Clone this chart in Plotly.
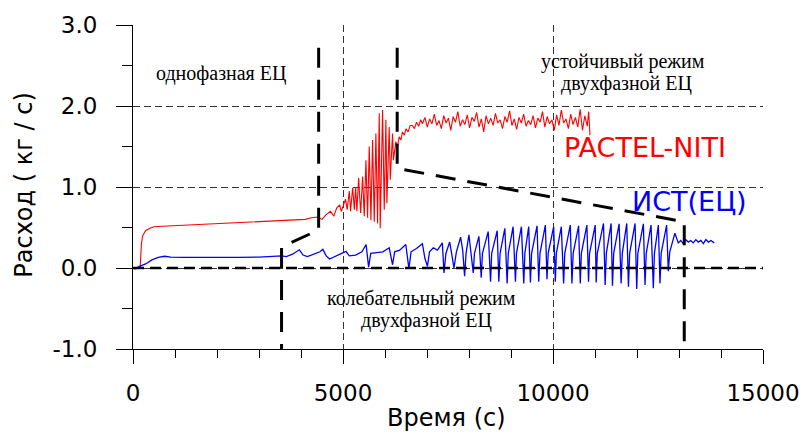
import plotly.graph_objects as go

# ---------------- data ----------------
red_time_start = [170, 200, 230, 300, 400, 500, 700, 900, 1100, 1300,
                  1600, 1900, 2200, 2500, 2800, 3100, 3400, 3700, 3900, 4100,
                  4250, 4400, 4500, 4600, 4700, 4780, 4850, 4920, 4960, 5000,
                  5060, 5100, 5150, 5180, 5230, 5270, 5300, 5330, 5372, 5420,
                  5467, 5505, 5546, 5585, 5625, 5665, 5704, 5744, 5783, 5823,
                  5863, 5886, 5942, 5982, 6021, 6045, 6100, 6125, 6179, 6200,
                  6258, 6300, 6337, 6380, 6416, 6460, 6500, 6550, 6600, 6654,
                  6700, 6750, 6800, 6850, 6891]
red_flow_start = [0.0, 0.30, 0.40, 0.46, 0.49, 0.51, 0.515, 0.52, 0.525, 0.53,
                  0.535, 0.54, 0.55, 0.555, 0.56, 0.57, 0.575, 0.585, 0.59, 0.60,
                  0.62, 0.63, 0.60, 0.66, 0.70, 0.64, 0.74, 0.78, 0.70, 0.76,
                  0.85, 0.72, 0.95, 0.70, 0.99, 0.72, 1.00, 0.70, 1.11, 0.68,
                  1.13, 0.64, 1.33, 0.62, 1.50, 0.59, 1.58, 0.57, 1.66, 0.55,
                  1.91, 0.49, 1.95, 0.72, 1.83, 0.80, 1.74, 1.09, 1.66, 1.33,
                  1.56, 1.50, 1.62, 1.58, 1.68, 1.64, 1.72, 1.68, 1.76, 1.76,
                  1.72, 1.80, 1.75, 1.83, 1.78]

red_time_plateau = [6950, 7006, 7062, 7118, 7174, 7230, 7286, 7342, 7398, 7454,
                    7510, 7566, 7622, 7678, 7734, 7790, 7846, 7902, 7958, 8014,
                    8070, 8126, 8182, 8238, 8294, 8350, 8406, 8462, 8518, 8574,
                    8630, 8686, 8742, 8798, 8854, 8910, 8966, 9022, 9078, 9134,
                    9190, 9246, 9302, 9358, 9414, 9470, 9526, 9582, 9638, 9694,
                    9750, 9806, 9862, 9918, 9974, 10030, 10086, 10142, 10198, 10254,
                    10310, 10366, 10422, 10478, 10534, 10590, 10646, 10702, 10758, 10814,
                    10850, 10880]
red_flow_plateau = [1.86, 1.74, 1.84, 1.78, 1.90, 1.76, 1.82, 1.72, 1.88, 1.79,
                    1.85, 1.70, 1.87, 1.80, 1.93, 1.75, 1.83, 1.77, 1.89, 1.73,
                    1.86, 1.81, 1.92, 1.74, 1.84, 1.68, 1.88, 1.78, 1.85, 1.76,
                    1.91, 1.79, 1.83, 1.72, 1.87, 1.80, 1.94, 1.76, 1.84, 1.71,
                    1.86, 1.79, 1.90, 1.75, 1.82, 1.77, 1.88, 1.73, 1.85, 1.80,
                    1.93, 1.74, 1.87, 1.78, 1.83, 1.70, 1.89, 1.76, 1.95, 1.79,
                    1.84, 1.72, 1.90, 1.77, 1.86, 1.74, 1.96, 1.70, 1.88, 1.75,
                    1.93, 1.64]

blue_time = [0, 60, 150, 300, 450, 600, 750, 900, 1200, 1600,
             2000, 2500, 3000, 3400, 3540, 3650, 3800, 3960, 4050, 4150,
             4300, 4450, 4520, 4600, 4680, 4800, 4950, 5070, 5150, 5300,
             5450, 5550, 5610, 5660, 5800, 5950, 6100, 6180, 6230, 6350,
             6495, 6570, 6620, 6750, 6890, 6950, 7010, 7060, 7150, 7250,
             7365, 7405, 7450, 7540, 7580, 7642, 7700, 7800, 7850, 7895,
             7930, 7998, 8101, 8130, 8236, 8291, 8320, 8457, 8513, 8540,
             8671, 8710, 8740, 8853, 8908, 8935, 9050, 9106, 9130, 9248,
             9304, 9330, 9422, 9462, 9490, 9620, 9660, 9690, 9818, 9857,
             9885, 10016, 10055, 10080, 10198, 10253, 10280, 10411, 10451, 10480,
             10609, 10649, 10675, 10807, 10846, 10870, 11005, 11028, 11055, 11202,
             11242, 11270, 11384, 11416, 11445, 11574, 11622, 11650, 11756, 11796,
             11825, 11954, 11993, 12020, 12152, 12191, 12220, 12334, 12389, 12415,
             12508, 12547, 12575, 12705, 12745, 12780, 12903, 12982, 13040, 13100,
             13160, 13220, 13280, 13340, 13400, 13460, 13520, 13580, 13640, 13700,
             13760, 13840]
blue_flow = [0.0, -0.01, 0.02, 0.05, 0.10, 0.13, 0.145, 0.135, 0.13, 0.13,
             0.125, 0.13, 0.135, 0.14, 0.15, 0.14, 0.17, 0.225, 0.16, 0.14,
             0.17, 0.20, 0.23, 0.15, 0.11, 0.14, 0.17, 0.205, 0.15, 0.16,
             0.20, 0.29, 0.01, 0.18, 0.19, 0.20, 0.25, 0.04, 0.20, 0.22,
             0.29, -0.01, 0.20, 0.24, 0.30, 0.12, 0.02, 0.20, 0.25, 0.22,
             0.31, -0.06, 0.18, 0.32, 0.20, 0.00, 0.20, 0.38, 0.22, -0.10,
             0.18, 0.41, -0.06, 0.18, 0.39, -0.12, 0.18, 0.45, -0.17, 0.18,
             0.46, -0.17, 0.18, 0.49, -0.19, 0.18, 0.51, -0.17, 0.18, 0.51,
             -0.19, 0.18, 0.51, -0.18, 0.18, 0.52, -0.17, 0.18, 0.53, -0.14,
             0.18, 0.51, -0.17, 0.18, 0.51, -0.19, 0.18, 0.53, -0.19, 0.18,
             0.52, -0.19, 0.18, 0.53, -0.17, 0.18, 0.53, -0.18, 0.18, 0.55,
             -0.21, 0.18, 0.55, -0.22, 0.18, 0.545, -0.19, 0.18, 0.55, -0.23,
             0.18, 0.55, -0.26, 0.18, 0.545, -0.21, 0.18, 0.53, -0.25, 0.18,
             0.53, -0.19, 0.18, 0.53, -0.04, 0.20, 0.43, 0.31, 0.34, 0.30,
             0.35, 0.32, 0.34, 0.31, 0.35, 0.32, 0.34, 0.30, 0.35, 0.32,
             0.34, 0.31]

# regime boundary markers (dashed black brackets)
bracket1_time = [4420, 4420, 3537, 3537]
bracket1_flow = [2.72, 0.47, 0.26, -1.03]
bracket2_time = [6290, 6290, 13125, 13125]
bracket2_flow = [2.72, 1.23, 0.57, -1.0]

zero_time = [0, 15000]
zero_flow = [0, 0]

x_tickvals = [0, 5000, 10000, 15000]
x_ticktext = ["0", "5000", "10000", "15000"]
y_tickvals = [-1, 0, 1, 2, 3]
y_ticktext = ["-1.0", "0.0", "1.0", "2.0", "3.0"]

assert len(red_time_start) == len(red_flow_start)
assert len(red_time_plateau) == len(red_flow_plateau)
assert len(blue_time) == len(blue_flow)

red_time = red_time_start + red_time_plateau
red_flow = red_flow_start + red_flow_plateau

SANS = "DejaVu Sans"
SERIF = "Liberation Serif"

fig = go.Figure()
fig.add_trace(go.Scatter(x=red_time, y=red_flow, mode="lines",
                         line=dict(color="#FF0000", width=1.1), showlegend=False))
fig.add_trace(go.Scatter(x=blue_time, y=blue_flow, mode="lines",
                         line=dict(color="#0000FF", width=1.3), showlegend=False))
fig.add_trace(go.Scatter(x=zero_time, y=zero_flow, mode="lines",
                         line=dict(color="black", width=2.5, dash="11px,6px"), showlegend=False))
for bt, bf in [(bracket1_time, bracket1_flow), (bracket2_time, bracket2_flow)]:
    fig.add_trace(go.Scatter(x=bt, y=bf, mode="lines",
                             line=dict(color="black", width=3, dash="20px,12px"), showlegend=False))

annotations = [
    dict(x=2089, y=2.40, text="однофазная ЕЦ", font=dict(family=SERIF, size=20, color="black")),
    dict(x=11677, y=2.545, text="устойчивый режим", font=dict(family=SERIF, size=20, color="black")),
    dict(x=11761, y=2.275, text="двухфазной ЕЦ", font=dict(family=SERIF, size=20, color="black")),
    dict(x=6859, y=-0.38, text="колебательный режим", font=dict(family=SERIF, size=20, color="black")),
    dict(x=6978, y=-0.65, text="двухфазной ЕЦ", font=dict(family=SERIF, size=20, color="black")),
    dict(x=12200, y=1.489, text="PACTEL-NITI", font=dict(family=SANS, size=27, color="#FF0000")),
    dict(x=13244, y=0.825, text="ИСТ(ЕЦ)", font=dict(family=SANS, size=27, color="#0000FF")),
]
for a in annotations:
    a.update(xref="x", yref="y", showarrow=False, xanchor="center", yanchor="middle")

annotations.append(dict(xref="paper", yref="paper", x=-0.1725, y=0.505,
                        text="Расход ( кг / с)", textangle=-90, showarrow=False,
                        xanchor="center", yanchor="middle",
                        font=dict(family=SANS, size=24, color="black")))
annotations.append(dict(xref="paper", yref="paper", x=0.497, y=-0.212,
                        text="Время (с)", showarrow=False,
                        xanchor="center", yanchor="middle",
                        font=dict(family=SANS, size=24, color="black")))

grid = dict(showgrid=True, gridcolor="#333333", gridwidth=1, griddash="7px,4px")

fig.update_layout(
    width=812, height=434,
    margin=dict(l=133, r=47, t=24, b=85),
    paper_bgcolor="white", plot_bgcolor="white",
    annotations=annotations,
    xaxis=dict(range=[0, 15000], tickmode="array", tickvals=x_tickvals, ticktext=x_ticktext, **grid,
               showline=True, linecolor="black", linewidth=1, zeroline=False,
               ticks="outside", ticklen=14, tickcolor="black", tickwidth=1,
               ticklabelstandoff=9,
               minor=dict(dtick=1000, tick0=0, ticks="outside", ticklen=8, tickcolor="black", showgrid=False),
               tickfont=dict(family=SANS, size=23, color="black")),
    yaxis=dict(range=[-1, 3], tickmode="array", tickvals=y_tickvals, ticktext=y_ticktext, **grid,
               showline=True, linecolor="black", linewidth=1, zeroline=False,
               ticks="outside", ticklen=16, tickcolor="black", tickwidth=1,
               ticklabelstandoff=14,
               minor=dict(dtick=0.5, tick0=0, ticks="outside", ticklen=10, tickcolor="black", showgrid=False),
               tickfont=dict(family=SANS, size=23, color="black")),
)

fig.write_html("out.html")
